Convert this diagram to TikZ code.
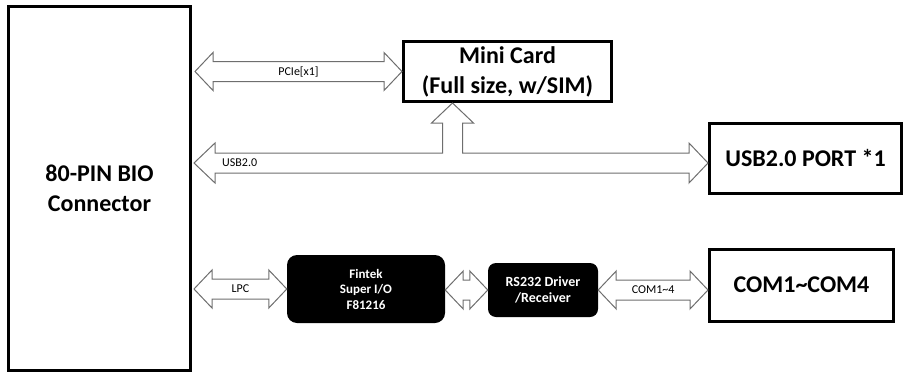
\documentclass[tikz,border=0pt]{standalone}
\usepackage{fontspec}
\setmainfont{Carlito}
\usetikzlibrary{positioning, calc}
\definecolor{busgray}{HTML}{6E6E6E}
\tikzset{
  block/.style={draw=black, line width=3, fill=white, align=center, font=\bfseries\fontsize{24}{30}\selectfont},
  chip/.style={fill=black, rounded corners=10, text=white, align=center, font=\bfseries\fontsize{13}{15.5}\selectfont},
  bus/.style={draw=busgray, fill=white, line width=1, line join=miter},
  buslabel/.style={font=\fontsize{12}{14}\selectfont},
  every node/.style={inner sep=0}
}
% hollow double-headed bus arrow between two tips at the same height
\newcommand{\busarrow}[2]{%
  \draw[bus] (#1) -- ++(18,19) -- ++(0,-9) -- ($(#2)+(-18,10)$) -- ++(0,9) -- (#2)
    -- ++(-18,-19) -- ++(0,9) -- ($(#1)+(18,-10)$) -- ++(0,-9) -- cycle;}

\begin{document}
\begin{tikzpicture}[x=1pt, y=1pt]
    \useasboundingbox (0,0) rectangle (909,376);
    \node[block, minimum width=182, minimum height=364] (bio) at (99.5,187.5) {80-PIN BIO\\Connector};
    \node[block, minimum width=208, minimum height=60] (minicard) at (507.5,304.5) {Mini Card\\(Full size, w/SIM)};
    \node[block, minimum width=192, minimum height=70] (usbport) at (805.5,217.5) {USB2.0 PORT *1};
    \node[block, minimum width=184, minimum height=72] (com) at (801.5,91) {COM1\textasciitilde COM4};
    \node[chip, minimum width=158, minimum height=68] (fintek) at (366,87) {Fintek\\Super I/O\\F81216};
    \node[chip, minimum width=110, minimum height=54, rounded corners=8, font=\bfseries\fontsize{14}{16.5}\selectfont] (rs232) at (543,86) {RS232 Driver\\/Receiver};
    % PCIe
    \coordinate (pcieL) at ($(bio.east |- minicard.west)+(3,0)$);
    \busarrow{pcieL}{minicard.west}
    \node[buslabel] (pcielabel) at ($(pcieL)!0.5!(minicard.west)$) {PCIe[x1]};
    % USB with branch up to the mini card
    \coordinate (usbR) at ($(usbport.west)+(0,-4.5)$);
    \coordinate (usbL) at ($(bio.east |- usbR)+(2,0)$);
    \coordinate (usbU) at ($(minicard.south)+(-55,0)$);
    \draw[bus] (usbL) -- ++(21,20) -- ++(0,-10) -- ($(usbU |- usbL)+(-10,10)$) -- ($(usbU)+(-10,-20)$)
      -- ++(-11,0) -- (usbU) -- ++(21,-20) -- ++(-11,0) -- ($(usbU |- usbL)+(10,10)$)
      -- ($(usbR)+(-19,10)$) -- ++(0,10) -- (usbR) -- ++(-19,-20) -- ++(0,10)
      -- ($(usbL)+(21,-10)$) -- ++(0,-10) -- cycle;
    \node[buslabel, anchor=west] (usblabel) at ($(usbL)+(28,0)$) {USB2.0};
    % LPC
    \coordinate (lpcL) at ($(bio.east |- fintek.west)+(2,0)$);
    \busarrow{lpcL}{fintek.west}
    \node[buslabel] (lpclabel) at ($(lpcL)!0.5!(fintek.west)$) {LPC};
    % Super I/O to RS232
    \busarrow{fintek.east |- rs232.west}{rs232.west}
    % COM ports
    \busarrow{rs232.east}{com.west |- rs232.east}
    \node[buslabel] (comlabel) at ($(rs232.east)!0.5!(com.west |- rs232.east)$) {COM1\textasciitilde 4};
\end{tikzpicture}
\end{document}
